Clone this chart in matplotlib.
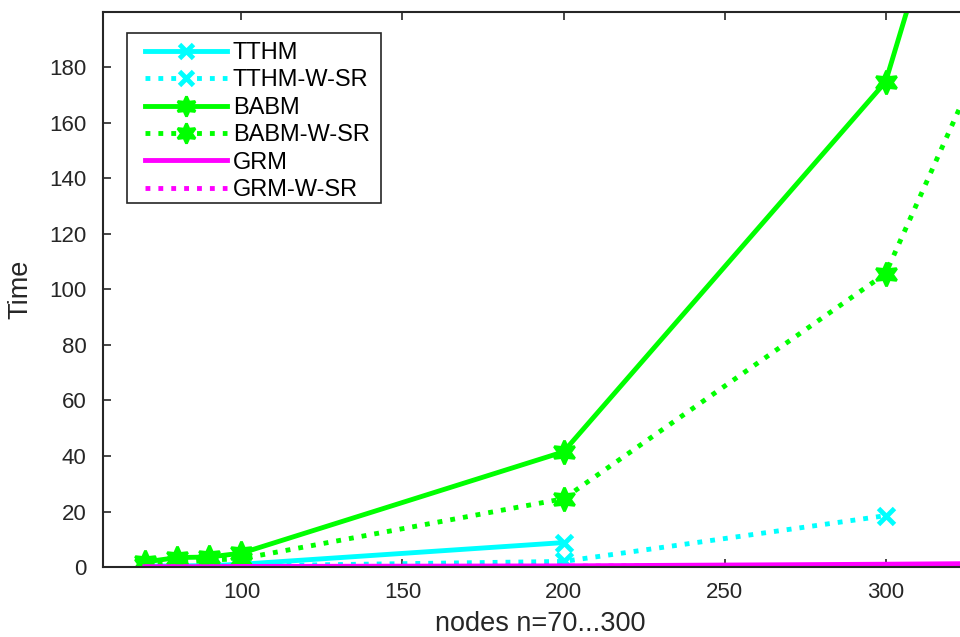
import matplotlib.pyplot as plt
from matplotlib.patches import Rectangle
import numpy as np

plt.rcParams['font.family'] = ['Liberation Sans', 'DejaVu Sans']

# Data
nodes = [70, 80, 90, 100, 200, 300, 400]
tthm = [0.3, 0.4, 0.5, 1.0, 8.8]
tthm_wsr = [0.2, 0.3, 0.3, 0.4, 2.0, 18.5]
babm = [1.8, 3.4, 3.6, 5.0, 41.5, 174.8, 560]
babm_wsr = [0.8, 1.5, 2.5, 3.0, 24.6, 105.7, 365]
grm = [0.1, 0.1, 0.1, 0.2, 0.4, 1.0, 1.8]
grm_wsr = [0.05, 0.05, 0.05, 0.1, 0.3, 0.6, 1.2]

cyan = '#00ffff'
green = '#00ff00'
magenta = '#ff00ff'
star6 = (6, 1, 0)

fig = plt.figure(figsize=(9.6, 6.37), dpi=100)
W, H = 960, 637
ax = fig.add_axes([103 / W, (H - 567) / H, (977 - 103) / W, (567 - 12) / H])

lw = 3.5
ax.plot(nodes[:5], tthm, '-', color=cyan, lw=lw, marker='x', ms=12, mew=3.5, label='TTHM')
ax.plot(nodes[:6], tthm_wsr, ':', color=cyan, lw=lw, marker='x', ms=12, mew=3.5, label='TTHM-W-SR')
ax.plot(nodes, babm, '-', color=green, lw=lw, marker=star6, ms=17, mew=2, label='BABM')
ax.plot(nodes, babm_wsr, ':', color=green, lw=lw, marker=star6, ms=17, mew=2,
        mfc=green, label='BABM-W-SR')
ax.plot(nodes, grm, '-', color=magenta, lw=lw, label='GRM')
ax.plot(nodes, grm_wsr, ':', color=magenta, lw=lw, label='GRM-W-SR')

ax.set_xlim(57, 328.4)
ax.set_ylim(0, 200)
ax.set_xticks([100, 150, 200, 250, 300])
ax.set_yticks(np.arange(0, 181, 20))

dark = '#262626'
for s in ax.spines.values():
    s.set_color(dark)
    s.set_linewidth(1.5)
ax.tick_params(direction='in', top=True, right=True, length=6, width=1.2,
               colors=dark, labelsize=16)
ax.tick_params(axis='x', pad=11)
ax.tick_params(axis='y', pad=12)

ax.set_xlabel('nodes n=70...300', fontsize=19.5, color=dark)
ax.xaxis.set_label_coords(0.5, -0.08)
ax.set_ylabel('Time', fontsize=19.5, color=dark)
ax.yaxis.set_label_coords(-0.08, 0.5)

# legend box drawn separately (MATLAB-style uneven padding)
frame = Rectangle((0.0275, 0.656), 0.2906, 0.3063, transform=ax.transAxes,
                  facecolor='white', edgecolor=dark, lw=1.2, zorder=4.5)
ax.add_patch(frame)
leg = ax.legend(loc='upper left', bbox_to_anchor=(0.048, 0.946), fontsize=17,
                handlelength=3.47, handletextpad=0.25, labelspacing=0.23,
                borderpad=0, borderaxespad=0, frameon=False, markerscale=0.85)
leg.set_zorder(5)

plt.savefig('out.png', dpi=100)
